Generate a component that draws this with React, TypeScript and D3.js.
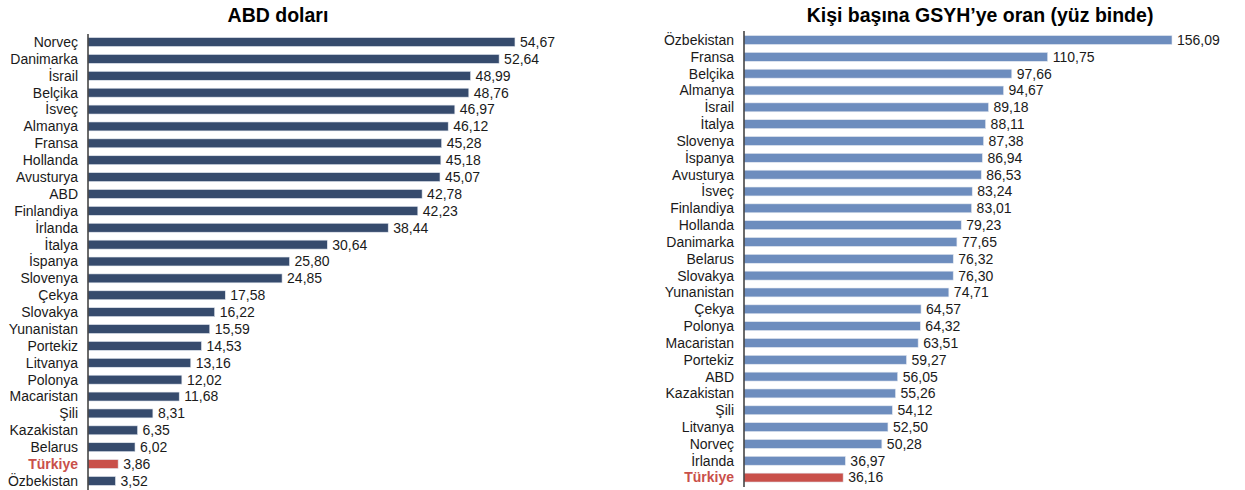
import React from "react";
import * as d3 from "d3";

const leftCategories = ["Norveç","Danimarka","İsrail","Belçika","İsveç","Almanya","Fransa","Hollanda","Avusturya","ABD","Finlandiya","İrlanda","İtalya","İspanya","Slovenya","Çekya","Slovakya","Yunanistan","Portekiz","Litvanya","Polonya","Macaristan","Şili","Kazakistan","Belarus","Türkiye","Özbekistan"];
const leftValues = [54.67,52.64,48.99,48.76,46.97,46.12,45.28,45.18,45.07,42.78,42.23,38.44,30.64,25.80,24.85,17.58,16.22,15.59,14.53,13.16,12.02,11.68,8.31,6.35,6.02,3.86,3.52];

const rightCategories = ["Özbekistan","Fransa","Belçika","Almanya","İsrail","İtalya","Slovenya","İspanya","Avusturya","İsveç","Finlandiya","Hollanda","Danimarka","Belarus","Slovakya","Yunanistan","Çekya","Polonya","Macaristan","Portekiz","ABD","Kazakistan","Şili","Litvanya","Norveç","İrlanda","Türkiye"];
const rightValues = [156.09,110.75,97.66,94.67,89.18,88.11,87.38,86.94,86.53,83.24,83.01,79.23,77.65,76.32,76.30,74.71,64.57,64.32,63.51,59.27,56.05,55.26,54.12,52.50,50.28,36.97,36.16];

const leftTitle = "ABD doları";
const rightTitle = "Kişi başına GSYH’ye oran (yüz binde)";
const highlight = "Türkiye";

const FONT = "'Liberation Sans', Arial, sans-serif";
const RED = "#C9504A";
const fmt = (v: number) => d3.format(".2f")(v).replace(".", ",");

type PanelProps = {
  cats: string[];
  vals: number[];
  title: string;
  titleX: number;
  x0: number;
  pxPerUnit: number;
  y0: number;
  y1: number;
  axisTop: number;
  axisBottom: number;
  color: string;
};

function Panel({ cats, vals, title, titleX, x0, pxPerUnit, y0, y1, axisTop, axisBottom, color }: PanelProps) {
  const maxV = d3.max(vals) as number;
  const x = d3.scaleLinear().domain([0, maxV]).range([x0, x0 + maxV * pxPerUnit]);
  const y = d3.scaleBand<string>().domain(cats).range([y0, y1]).paddingInner(0.47).paddingOuter(0.235);
  const bw = y.bandwidth();
  return (
    <g>
      <text x={titleX} y={22} textAnchor="middle" fontFamily={FONT} fontWeight="bold" fontSize={19.5} fill="#000">{title}</text>
      {cats.map((c, i) => {
        const v = vals[i];
        const yy = y(c) as number;
        const hl = c === highlight;
        return (
          <g key={c}>
            <rect x={x(0)} y={yy} width={x(v) - x(0)} height={bw} fill={hl ? RED : color} stroke="#e3e8f0" strokeWidth={0.6} />
            <text x={x(0) - 10} y={yy + bw / 2} dy="0.35em" textAnchor="end" fontFamily={FONT} fontSize={14}
              fontWeight={hl ? "bold" : "normal"} fill={hl ? RED : "#1a1a1a"}>{c}</text>
            <text x={x(v) + 5} y={yy + bw / 2} dy="0.35em" textAnchor="start" fontFamily={FONT} fontSize={14} fill="#1a1a1a">{fmt(v)}</text>
          </g>
        );
      })}
      <line x1={x0} x2={x0} y1={axisTop} y2={axisBottom} stroke="#3a3a3a" strokeWidth={1.5} />
    </g>
  );
}

export default function App() {
  return (
    <svg width={1245} height={490} style={{ position: "absolute", left: 0, top: 0, background: "#fff" }}>
      <Panel cats={leftCategories} vals={leftValues} title={leftTitle} titleX={278} x0={88} pxPerUnit={7.81}
        y0={33.6} y1={489.4} axisTop={34} axisBottom={490} color="#364B6D" />
      <Panel cats={rightCategories} vals={rightValues} title={rightTitle} titleX={980} x0={744} pxPerUnit={2.742}
        y0={31.6} y1={486} axisTop={31} axisBottom={487} color="#6D8DBE" />
    </svg>
  );
}
